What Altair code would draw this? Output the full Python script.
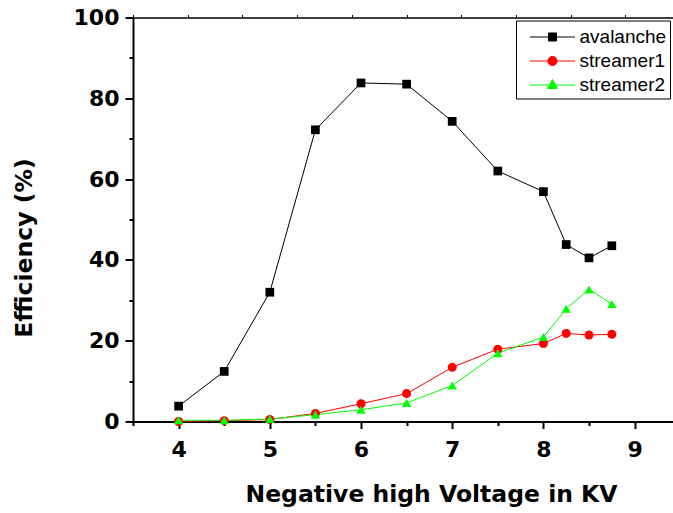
import altair as alt
import pandas as pd

# Applied voltage (kV) and measured efficiencies (%)
voltage = [4, 4.5, 5, 5.5, 6, 6.5, 7, 7.5, 8, 8.25, 8.5, 8.75]
avalanche = [3.8, 12.4, 32.0, 72.2, 83.8, 83.5, 74.3, 62.0, 56.9, 43.8, 40.5, 43.5]
streamer1 = [0.0, 0.2, 0.5, 2.0, 4.4, 6.9, 13.4, 17.9, 19.3, 21.8, 21.4, 21.6]
streamer2 = [0.3, 0.3, 0.6, 1.7, 2.9, 4.6, 8.9, 16.9, 20.9, 27.9, 32.7, 29.1]

series_names = ["avalanche", "streamer1", "streamer2"]
series_colors = ["#000000", "#ff0000", "#00ff00"]
marker_shapes = ["square", "circle", "triangle-up"]
marker_sizes = [76, 86, 140]

# Legend glyphs: a line segment with the series marker in the middle
legend_glyphs = [
    "M-1.73,0H1.73M-0.31,-0.31H0.31V0.31H-0.31Z",
    "M-1.73,0H1.73M-0.35,0A0.35,0.35,0,1,1,0.35,0A0.35,0.35,0,1,1,-0.35,0Z",
    "M-1.73,0H1.73M0,-0.42L0.385,0.27L-0.385,0.27Z",
]

x_ticks = [3.5, 4, 4.5, 5, 5.5, 6, 6.5, 7, 7.5, 8, 8.5, 9]
top_ticks = [3.5, 4.1, 4.7, 5.3, 5.9, 6.5, 7.1, 7.7, 8.3, 8.9]
y_ticks = [0, 10, 20, 30, 40, 50, 60, 70, 80, 90, 100]

rows = []
for name, values in zip(series_names, [avalanche, streamer1, streamer2]):
    for v, e in zip(voltage, values):
        rows.append({"voltage": v, "efficiency": e, "series": name})
df = pd.DataFrame(rows)

x_scale = alt.Scale(domain=[3.5, 9.421], nice=False, zero=False)
y_scale = alt.Scale(domain=[0, 100], nice=False, zero=False)
color_scale = alt.Scale(domain=series_names, range=series_colors)

bottom_axis = alt.Axis(
    orient="bottom",
    values=x_ticks,
    labelExpr="datum.value % 1 == 0 ? format(datum.value, 'd') : ''",
    tickSize={"condition": {"test": "datum.value % 1 != 0", "value": 4}, "value": 7},
    labelPadding=11,
    labelFlush=False,
    labelOverlap=False,
    domainWidth=2,
    tickWidth=2,
    title="Negative high Voltage in KV",
    titleX=298,
    titleY=80,
    titleAlign="center",
    titleBaseline="alphabetic",
)

top_axis = alt.Axis(
    orient="top",
    values=top_ticks,
    labels=False,
    title=None,
    tickSize=3,
    tickWidth=1,
    domainWidth=1.5,
)

left_axis = alt.Axis(
    orient="left",
    values=y_ticks,
    labelExpr="datum.value % 20 == 0 ? format(datum.value, 'd') : ''",
    tickSize={"condition": {"test": "datum.value % 20 != 0", "value": 4}, "value": 8},
    labelPadding=6,
    labelOverlap=False,
    labelFlush=False,
    domainWidth=2,
    tickWidth=2,
    title="Efficiency (%)",
    titleX=-102,
    titleY=230,
    titleAngle=270,
    titleAlign="center",
    titleBaseline="alphabetic",
)

legend = alt.Legend(
    title=None,
    orient="top-right",
    offset=3,
    padding=3,
    strokeColor="black",
    fillColor="white",
    cornerRadius=0,
    labelFont="Liberation Sans",
    labelFontSize=19,
    labelFontWeight="normal",
    labelColor="black",
    labelOffset=13.5,
    labelLimit=300,
    symbolSize=676,
    symbolOffset=20,
    symbolStrokeWidth=1,
    symbolOpacity=1,
    rowPadding=0,
)

base = alt.Chart(df)
y_enc = alt.Y("efficiency:Q", scale=y_scale, axis=left_axis)

lines = base.mark_line(strokeWidth=1).encode(
    x=alt.X("voltage:Q", scale=x_scale, axis=bottom_axis),
    y=y_enc,
    color=alt.Color("series:N", scale=color_scale, legend=None),
)

points = base.mark_point(filled=True, opacity=1, strokeWidth=0).encode(
    x=alt.X("voltage:Q", scale=x_scale, axis=top_axis),
    y=y_enc,
    color=alt.Color("series:N", scale=color_scale, legend=None),
    shape=alt.Shape("series:N", scale=alt.Scale(domain=series_names, range=marker_shapes), legend=None),
    size=alt.Size("series:N", scale=alt.Scale(domain=series_names, range=marker_sizes), legend=None),
)

key = base.transform_filter("false").mark_point(filled=True, opacity=1).encode(
    x=alt.X("voltage:Q", scale=x_scale, axis=None),
    y=y_enc,
    fill=alt.Fill("series:N", scale=alt.Scale(domain=series_names, range=series_colors), legend=legend),
    stroke=alt.Stroke("series:N", scale=alt.Scale(domain=series_names, range=series_colors), legend=legend),
    shape=alt.Shape("series:N", scale=alt.Scale(domain=series_names, range=legend_glyphs), legend=legend),
)

chart = (
    alt.layer(lines, points, key)
    .resolve_axis(x="independent")
    .resolve_scale(shape="independent", fill="independent", stroke="independent")
    .properties(
        width=540,
        height=404,
        autosize=alt.AutoSizeParams(type="none"),
        padding={"left": 133, "top": 17.5, "right": 0, "bottom": 91.5},
        background="white",
    )
    .configure_view(stroke=None)
    .configure_axis(
        grid=False,
        labelFont="DejaVu Sans",
        labelFontWeight="bold",
        labelFontSize=22,
        labelColor="black",
        titleFont="DejaVu Sans",
        titleFontWeight="bold",
        titleFontSize=23.5,
        titleColor="black",
        domainColor="black",
        tickColor="black",
    )
)

chart.save("out.html", embed_options={"renderer": "svg", "actions": False})
